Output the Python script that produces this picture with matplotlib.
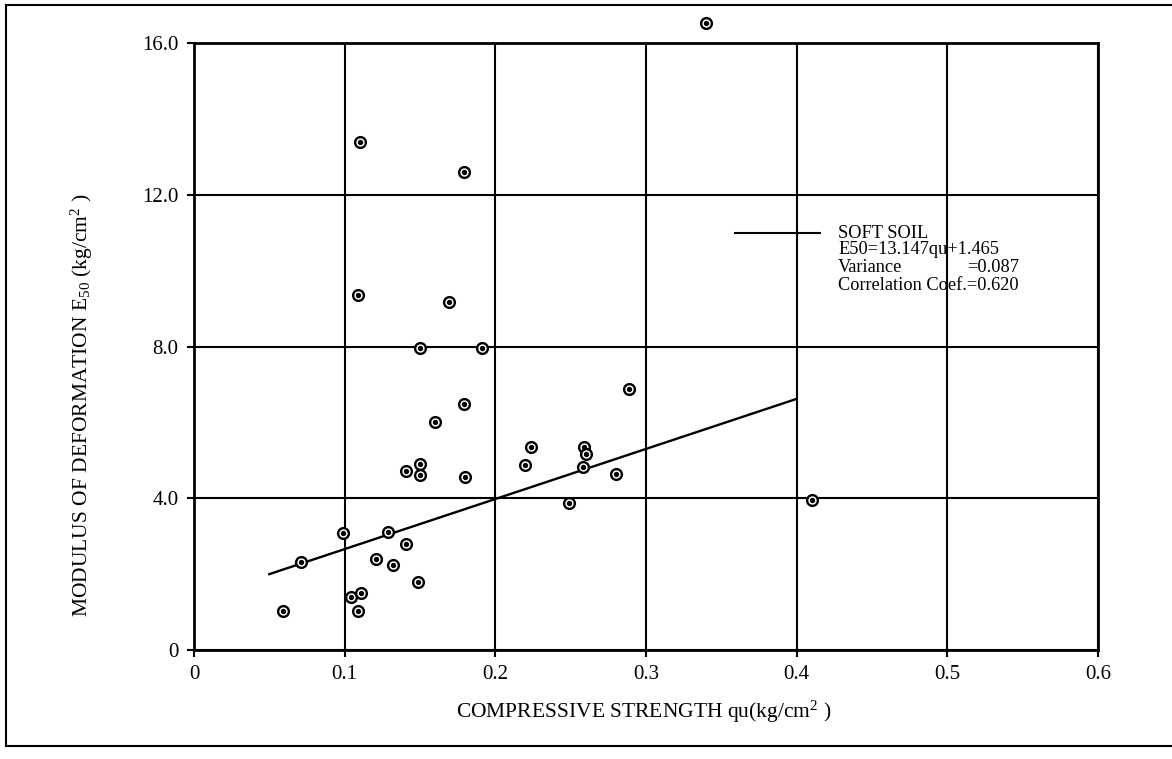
import matplotlib
matplotlib.use("Agg")
import matplotlib.pyplot as plt
from matplotlib.lines import Line2D

plt.rcParams['font.family'] = ['Liberation Serif', 'DejaVu Serif']
plt.rcParams['mathtext.fontset'] = 'custom'
plt.rcParams['mathtext.rm'] = 'Liberation Serif'
plt.rcParams['mathtext.it'] = 'Liberation Serif:italic'

# ---- data ----
qu = [0.059, 0.071, 0.099, 0.104, 0.109, 0.111, 0.121, 0.129, 0.132, 0.141,
      0.141, 0.149, 0.150, 0.150, 0.160, 0.179, 0.180, 0.220, 0.224, 0.259,
      0.260, 0.258, 0.280, 0.249, 0.289, 0.410, 0.110, 0.179, 0.109, 0.169,
      0.150, 0.191, 0.3395]
e50 = [1.03, 2.33, 3.08, 1.41, 1.03, 1.49, 2.39, 3.12, 2.23, 2.79,
       4.72, 1.78, 4.90, 4.60, 6.00, 6.48, 4.56, 4.87, 5.36, 5.36,
       5.17, 4.83, 4.64, 3.88, 6.87, 3.95, 13.39, 12.60, 9.36, 9.17,
       7.95, 7.95, 16.54]

fit_x = [0.05, 0.40]
fit_y = [2.0, 6.62]

x_ticks = [0, 0.1, 0.2, 0.3, 0.4, 0.5, 0.6]
x_tick_labels = ['0', '0.1', '0.2', '0.3', '0.4', '0.5', '0.6']
y_ticks = [0, 4, 8, 12, 16]
y_tick_labels = ['0', '4.0', '8.0', '12.0', '16.0']

legend_lines = ['SOFT SOIL', 'E50=13.147qu+1.465', 'Variance', 'Correlation Coef.=0.620']
variance_value = '=0.087'

W, H = 1172, 759
fig = plt.figure(figsize=(W / 100, H / 100), dpi=100)
ax = fig.add_axes([194 / W, (H - 650) / H, (1098 - 194) / W, (650 - 43) / H])

ax.set_xlim(0, 0.6)
ax.set_ylim(0, 16)
ax.set_xticks(x_ticks)
ax.set_xticklabels(x_tick_labels)
ax.set_yticks(y_ticks)
ax.set_yticklabels(y_tick_labels)
ax.tick_params(direction='out', length=5, width=1.5, labelsize=15, pad=6, colors='black')

ax.grid(True, color='black', linewidth=1.5)
ax.set_axisbelow(True)
for s in ax.spines.values():
    s.set_linewidth(2.0)
    s.set_color('black')

ax.plot(fit_x, fit_y, color='black', linewidth=1.7, zorder=3)
ax.scatter(qu, e50, s=60, facecolors='white', edgecolors='black', linewidths=1.7,
           zorder=4, clip_on=False)
ax.scatter(qu, e50, s=8, color='black', zorder=5, clip_on=False)

# axis labels
fig.text(644 / W, 1 - 712 / H, 'COMPRESSIVE STRENGTH qu(kg/cm$^{2}$ )', ha='center', va='center',
         fontsize=15.5)
fig.text(82 / W, 1 - 405 / H, 'MODULUS OF DEFORMATION E$_{50}$ (kg/cm$^{2}$ )', ha='center',
         va='center', rotation=90, fontsize=15.5)

# legend-like annotation
fig.add_artist(Line2D([735 / W, 820 / W], [1 - 233 / H, 1 - 233 / H], color='black', linewidth=1.5))
rows = [233, 250, 268, 285]
for txt, r in zip(legend_lines, rows):
    fig.text(838 / W, 1 - r / H, txt, ha='left', va='center', fontsize=13.2)
fig.text(967 / W, 1 - 268 / H, variance_value, ha='left', va='center', fontsize=13.2)

# outer frame
fig.add_artist(Line2D([6 / W, 6 / W], [1 - 5 / H, 1 - 746 / H], color='black', linewidth=1.5))
fig.add_artist(Line2D([6 / W, 1.0], [1 - 5 / H, 1 - 5 / H], color='black', linewidth=1.5))
fig.add_artist(Line2D([6 / W, 1.0], [1 - 746 / H, 1 - 746 / H], color='black', linewidth=1.5))

fig.savefig('out.png', dpi=100)
